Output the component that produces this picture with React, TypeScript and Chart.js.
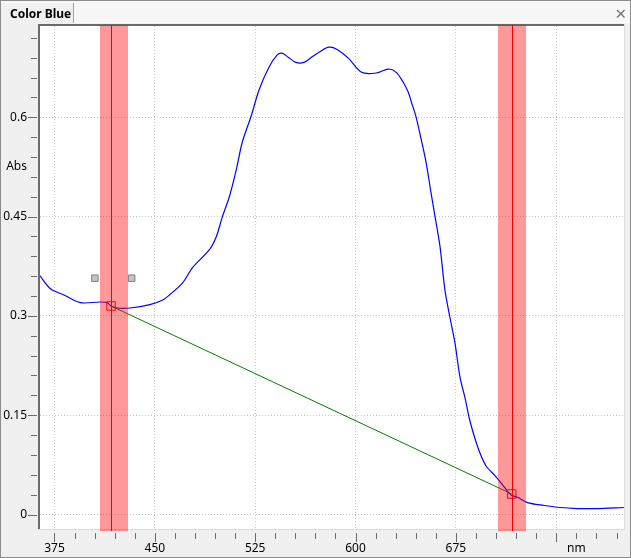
import React, { useEffect, useRef } from "react";
import { Chart, registerables } from "chart.js";

Chart.register(...registerables);

// ---- data ----
const wavelength = [364.0, 372.0, 381.7, 394.3, 409.2, 414.4, 417.3, 421.8, 431.4, 446.3, 455.9, 461.1, 470.8, 478.2, 490.8, 496.0, 500.5, 505.7, 510.9, 515.3, 522.0, 528.0, 535.4, 541.3, 545.0, 550.2, 555.4, 561.4, 567.3, 574.0, 580.0, 585.9, 594.8, 604.5, 615.6, 624.5, 630.4, 635.6, 639.4, 641.6, 645.3, 649.0, 652.7, 656.4, 659.4, 663.1, 666.8, 670.5, 674.3, 678.0, 681.7, 685.4, 691.3, 697.3, 704.0, 711.4, 715.8, 721.0, 728.5, 741.1, 750.7, 765.6, 780.4, 800.5];
const absorbance = [0.361, 0.341, 0.332, 0.320, 0.321, 0.320, 0.315, 0.312, 0.312, 0.317, 0.324, 0.332, 0.350, 0.373, 0.400, 0.420, 0.450, 0.480, 0.521, 0.562, 0.602, 0.642, 0.676, 0.694, 0.697, 0.690, 0.683, 0.683, 0.691, 0.700, 0.706, 0.703, 0.689, 0.668, 0.667, 0.673, 0.668, 0.653, 0.638, 0.624, 0.600, 0.567, 0.532, 0.486, 0.450, 0.405, 0.339, 0.298, 0.259, 0.208, 0.177, 0.142, 0.102, 0.074, 0.059, 0.041, 0.030, 0.026, 0.018, 0.0136, 0.011, 0.009, 0.009, 0.0106];

const markerNm = [417.3, 716.7];
const markerAbs = [0.315, 0.031];
const bandStart = [408.9, 706.8];
const bandEnd = [429.7, 727.7];
const handleNm = [405.2, 432.7];
const handleAbs = [0.357, 0.357];

const xTickValues = [375, 450, 525, 600, 675, 750, 765];
const xTickLabels = ["375", "450", "525", "600", "675", "", "nm"];
const yTickValues = [0, 0.15, 0.3, 0.45, 0.525, 0.6];
const yTickLabels = ["0", "0.15", "0.3", "0.45", "Abs", "0.6"];

const X_MIN = 364.2;
const X_MAX = 800.6;
const Y_MIN = -0.0219;
const Y_MAX = 0.738;

const FONT = '"Noto Sans", "Liberation Sans", sans-serif';

const framePlugin = {
  id: "frame",
  beforeDraw(chart: any) {
    const { ctx, chartArea: a, width, height } = chart;
    ctx.save();
    ctx.fillStyle = "#f0f0f0";
    ctx.fillRect(0, 0, width, height);
    ctx.fillStyle = "#f7f7f7";
    ctx.fillRect(1, 1, width - 2, 22);
    ctx.fillStyle = "#f0f0f0";
    ctx.fillRect(1, 3, 72, 21);
    ctx.fillStyle = "#ffffff";
    ctx.fillRect(74, 22, width - 75, 1);
    ctx.strokeStyle = "#a0a0a0";
    ctx.lineWidth = 1;
    ctx.beginPath();
    ctx.moveTo(73.5, 3);
    ctx.lineTo(73.5, 23);
    ctx.stroke();
    ctx.strokeStyle = "#8c8c8c";
    ctx.strokeRect(0.5, 0.5, width - 1, height - 1);
    // title
    ctx.fillStyle = "#000";
    ctx.font = "bold 12px " + FONT;
    ctx.textBaseline = "alphabetic";
    ctx.textAlign = "left";
    ctx.fillText("Color Blue", 10, 18);
    // close icon
    ctx.strokeStyle = "#707070";
    ctx.lineWidth = 1.3;
    ctx.beginPath();
    ctx.moveTo(617, 10);
    ctx.lineTo(624.5, 17.5);
    ctx.moveTo(624.5, 10);
    ctx.lineTo(617, 17.5);
    ctx.stroke();
    // plot area
    ctx.fillStyle = "#ffffff";
    ctx.fillRect(a.left - 2, a.top - 2, a.right - a.left + 3, a.bottom - a.top + 3);
    ctx.restore();
  },
  beforeDatasetsDraw(chart: any) {
    const { ctx, chartArea: a, scales } = chart;
    const xs = scales.x;
    const ys = scales.y;
    ctx.save();
    // borders
    ctx.fillStyle = "#6b6b6b";
    ctx.fillRect(a.left - 2, a.top - 2, 2, a.bottom - a.top + 2);
    ctx.fillRect(a.left - 2, a.top - 2, a.right - a.left + 2, 2);
    ctx.fillStyle = "#dcdcdc";
    ctx.fillRect(a.right, a.top - 2, 1, a.bottom - a.top + 3);
    ctx.fillRect(a.left - 2, a.bottom, a.right - a.left + 3, 1);
    // tick marks
    ctx.strokeStyle = "#6a6a6a";
    ctx.lineWidth = 1;
    ctx.beginPath();
    for (let k = 0; k <= 24; k++) {
      const py = Math.round(ys.getPixelForValue(k * 0.03)) + 0.5;
      const major = k % 5 === 0;
      ctx.moveTo(major ? 28 : 31, py);
      ctx.lineTo(37, py);
    }
    for (let k = 0; k <= 28; k++) {
      const v = 375 + 15 * k;
      if (v > X_MAX) break;
      const px = Math.round(xs.getPixelForValue(v)) + 0.5;
      const major = k % 5 === 0;
      ctx.moveTo(px, a.bottom + 4);
      ctx.lineTo(px, a.bottom + (major ? 13 : 10));
    }
    ctx.stroke();
    ctx.restore();
  },
  afterDatasetDraw(chart: any, args: any) {
    const ds = chart.data.datasets[args.index];
    if (ds.label !== "baseline") return;
    const { ctx, chartArea: a, scales } = chart;
    const xs = scales.x;
    ctx.save();
    for (let i = 0; i < bandStart.length; i++) {
      const x0 = Math.round(xs.getPixelForValue(bandStart[i]));
      const x1 = Math.round(xs.getPixelForValue(bandEnd[i]));
      ctx.fillStyle = "rgba(255,0,0,0.4)";
      ctx.fillRect(x0, a.top - 1, x1 - x0, a.bottom - a.top + 3);
    }
    ctx.strokeStyle = "#ee0000";
    ctx.lineWidth = 1;
    ctx.beginPath();
    for (let i = 0; i < markerNm.length; i++) {
      const px = Math.round(xs.getPixelForValue(markerNm[i])) + 0.5;
      ctx.moveTo(px, a.top - 1);
      ctx.lineTo(px, a.bottom + 2);
    }
    ctx.stroke();
    ctx.restore();
  },
};

export default function App() {
  const ref = useRef<HTMLCanvasElement>(null);
  useEffect(() => {
    document.body.style.margin = "0";
    const spectrum = wavelength.map((x, i) => ({ x, y: absorbance[i] }));
    const markers = markerNm.map((x, i) => ({ x, y: markerAbs[i] }));
    const handles = handleNm.map((x, i) => ({ x, y: handleAbs[i] }));
    const chart = new Chart(ref.current as HTMLCanvasElement, {
      type: "scatter",
      data: {
        datasets: [
          {
            label: "markers",
            data: markers,
            showLine: false,
            pointStyle: "rect",
            pointRadius: 6,
            borderColor: "#ff0000",
            backgroundColor: "rgba(0,0,0,0)",
            borderWidth: 1,
            order: 1,
          },
          {
            label: "handles",
            data: handles,
            showLine: false,
            pointStyle: "rect",
            pointRadius: 4.6,
            borderColor: "#808080",
            backgroundColor: "#c4c4c4",
            borderWidth: 1,
            order: 2,
          },
          {
            label: "baseline",
            data: markers,
            showLine: true,
            borderColor: "#008000",
            borderWidth: 1,
            pointRadius: 0,
            order: 5,
          },
          {
            label: "spectrum",
            data: spectrum,
            showLine: true,
            borderColor: "#0000ff",
            borderWidth: 1.2,
            pointRadius: 0,
            tension: 0.3,
            order: 6,
          },
        ],
      } as any,
      options: {
        animation: false,
        responsive: false,
        devicePixelRatio: 1,
        layout: { padding: { top: 26, right: 5, left: 0, bottom: 0 } },
        plugins: { legend: { display: false }, tooltip: { enabled: false } },
        events: [],
        scales: {
          x: {
            type: "linear",
            min: X_MIN,
            max: X_MAX,
            afterBuildTicks: (s: any) => {
              s.ticks = xTickValues.map((v) => ({ value: v }));
            },
            afterFit: (s: any) => {
              s.height = 29;
            },
            ticks: {
              autoSkip: false,
              maxRotation: 0,
              padding: 12,
              color: "#000",
              font: { family: FONT, size: 12 },
              callback: (_v: any, i: number) => xTickLabels[i],
            },
            grid: {
              drawTicks: false,
              lineWidth: 1,
              color: (c: any) =>
                c.tick && c.tick.value === 765 ? "rgba(0,0,0,0)" : "#c8c8c8",
            },
            border: { display: false, dash: [1, 2] },
          },
          y: {
            type: "linear",
            min: Y_MIN,
            max: Y_MAX,
            afterBuildTicks: (s: any) => {
              s.ticks = yTickValues.map((v) => ({ value: v }));
            },
            afterFit: (s: any) => {
              s.width = 40;
            },
            ticks: {
              autoSkip: false,
              padding: 13,
              color: "#000",
              font: { family: FONT, size: 12 },
              callback: (_v: any, i: number) => yTickLabels[i],
            },
            grid: {
              drawTicks: false,
              lineWidth: 1,
              color: (c: any) =>
                c.tick && c.tick.value === 0.525 ? "rgba(0,0,0,0)" : "#c8c8c8",
            },
            border: { display: false, dash: [1, 2] },
          },
        },
      } as any,
      plugins: [framePlugin],
    });
    return () => chart.destroy();
  }, []);
  return (
    <div style={{ position: "absolute", left: 0, top: 0, width: 631, height: 558 }}>
      <canvas
        ref={ref}
        width={631}
        height={558}
        style={{ display: "block", width: 631, height: 558 }}
      />
    </div>
  );
}
